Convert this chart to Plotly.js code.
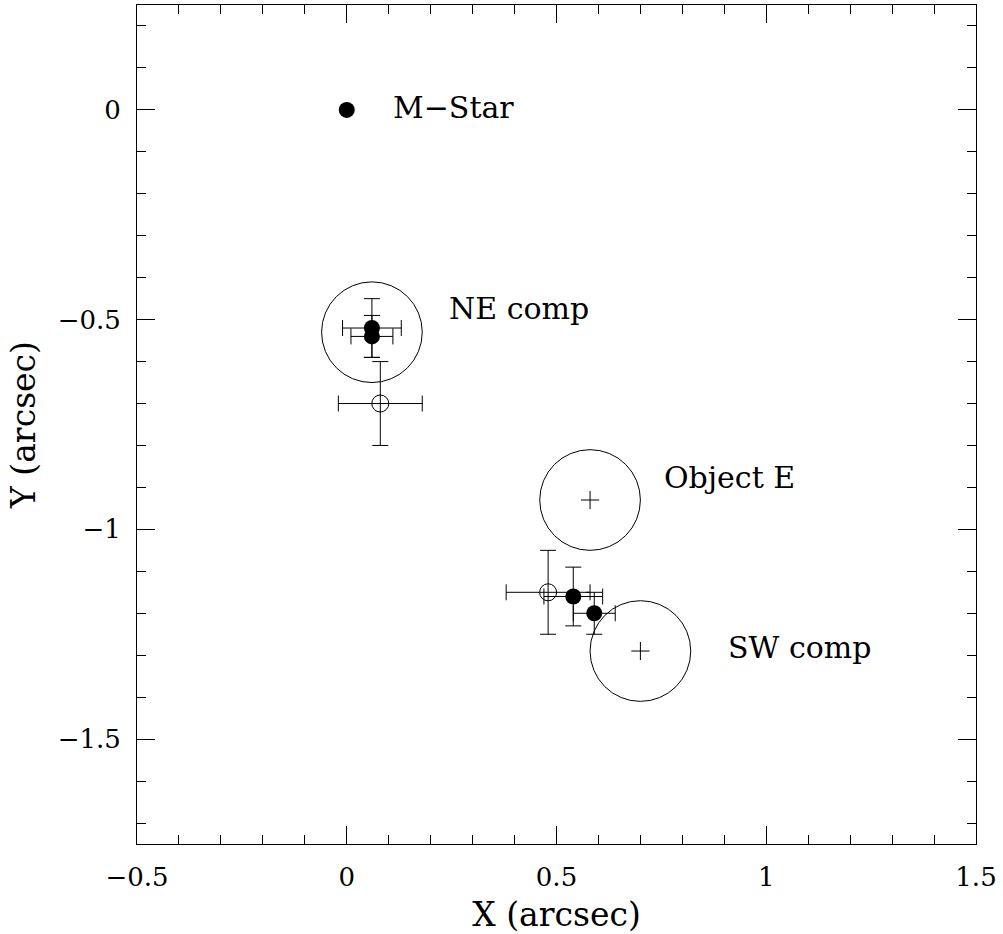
<!DOCTYPE html>
<html>
<head>
<meta charset="utf-8">
<script src="https://cdn.plot.ly/plotly-3.0.1.min.js"></script>
<style>html,body{margin:0;padding:0;background:#fff;}#chart{width:1003px;height:934px;}</style>
</head>
<body>
<div id="chart"></div>
<script>
// Filled symbols (with symmetric errors, same in x and y)
var filledX = [0.06, 0.06, 0.54, 0.59];
var filledY = [-0.52, -0.54, -1.16, -1.20];
var filledErr = [0.07, 0.05, 0.07, 0.05];
// Open symbols
var openX = [0.08, 0.48];
var openY = [-0.70, -1.15];
var openErr = [0.10, 0.10];
// Primary star
var starX = [0];
var starY = [0];
// Companion circles (centre, radius in arcsec)
var compNames = ["NE comp", "Object E", "SW comp"];
var compX = [0.06, 0.58, 0.70];
var compY = [-0.53, -0.93, -1.29];
var compR = [0.12, 0.12, 0.12];
var compCross = [false, true, true];
// Labels
var labelText = ["M\u2212Star", "NE comp", "Object E", "SW comp"];
var labelX = [0.105, 0.240, 0.752, 0.905];
var labelY = [0.006, -0.473, -0.877, -1.282];

var FONT = "DejaVu Serif";
var traces = [];
traces.push({
  x: openX, y: openY, mode: "markers", type: "scatter",
  marker: {symbol: "circle-open", size: 17, color: "black", line: {width: 1, color: "black"}},
  error_x: {type: "data", array: openErr, visible: true, color: "black", thickness: 1, width: 8},
  error_y: {type: "data", array: openErr, visible: true, color: "black", thickness: 1, width: 8},
  hoverinfo: "skip"
});
traces.push({
  x: filledX, y: filledY, mode: "markers", type: "scatter",
  marker: {symbol: "circle", size: 16, color: "black"},
  error_x: {type: "data", array: filledErr, visible: true, color: "black", thickness: 1, width: 8},
  error_y: {type: "data", array: filledErr, visible: true, color: "black", thickness: 1, width: 8},
  hoverinfo: "skip"
});
traces.push({
  x: starX, y: starY, mode: "markers", type: "scatter",
  marker: {symbol: "circle", size: 16, color: "black"}, hoverinfo: "skip"
});
var cx = [], cy = [];
for (var i = 0; i < compX.length; i++) if (compCross[i]) { cx.push(compX[i]); cy.push(compY[i]); }
traces.push({
  x: cx, y: cy, mode: "markers", type: "scatter",
  marker: {symbol: "cross-thin-open", size: 13, color: "black", line: {width: 1, color: "black"}},
  hoverinfo: "skip"
});

var shapes = [];
for (var j = 0; j < compX.length; j++) {
  shapes.push({type: "circle", xref: "x", yref: "y",
    x0: compX[j] - compR[j], x1: compX[j] + compR[j],
    y0: compY[j] - compR[j], y1: compY[j] + compR[j],
    line: {color: "black", width: 1}});
}
var annotations = [];
for (var k = 0; k < labelText.length; k++) {
  annotations.push({x: labelX[k], y: labelY[k], xref: "x", yref: "y", text: labelText[k],
    showarrow: false, xanchor: "left", yanchor: "middle",
    font: {family: FONT, size: 30, color: "black"}});
}

var axisCommon = {
  showgrid: false, zeroline: false, showline: true, linecolor: "black", linewidth: 1,
  mirror: "ticks", ticks: "inside", ticklen: 18, tickwidth: 1, tickcolor: "black",
  tickfont: {family: FONT, size: 26, color: "black"},
  minor: {ticks: "inside", ticklen: 9, tickwidth: 1, tickcolor: "black", dtick: 0.1, showgrid: false},
  dtick: 0.5, fixedrange: true
};
var layout = {
  width: 1003, height: 934,
  margin: {l: 137, r: 27, t: 5, b: 90},
  paper_bgcolor: "white", plot_bgcolor: "white",
  showlegend: false,
  xaxis: Object.assign({}, axisCommon, {
    range: [-0.5, 1.5], tick0: 0,
    ticklabelstandoff: 10,
    title: {text: "X (arcsec)", font: {family: FONT, size: 33, color: "black"}, standoff: 12}
  }),
  yaxis: Object.assign({}, axisCommon, {
    range: [-1.75, 0.25], tick0: 0,
    ticklabelstandoff: 10,
    title: {text: "Y (arcsec)", font: {family: FONT, size: 33, color: "black"}, standoff: 12}
  }),
  shapes: shapes,
  annotations: annotations
};
Plotly.newPlot("chart", traces, layout, {displayModeBar: false, staticPlot: true});
</script>
</body>
</html>
